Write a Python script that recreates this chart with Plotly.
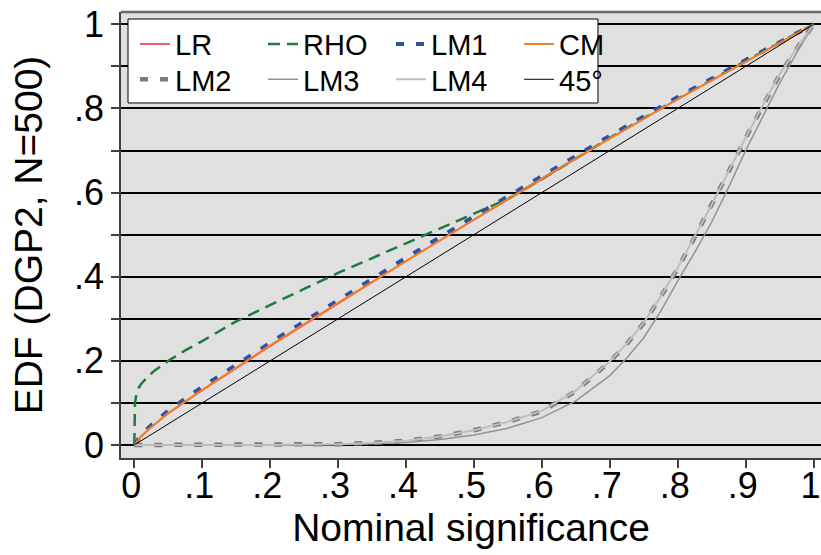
import plotly.graph_objects as go

# ---------------- data ----------------
x_lr = [0, .01, .02, .05, .1, .15, .2, .3, .4, .5, .6, .7, .8, .9, 1]
y_lr = [0, .02, .035, .075, .13, .183, .235, .336, .437, .535, .632, .728, .822, .912, 1]

x_cm = [0, .01, .02, .05, .1, .15, .2, .3, .4, .5, .6, .7, .8, .9, 1]
y_cm = [0, .021, .036, .076, .131, .184, .237, .338, .438, .536, .633, .729, .822, .912, 1]

x_lm1 = [0, .01, .02, .05, .1, .15, .2, .3, .4, .5, .6, .7, .8, .9, 1]
y_lm1 = [0, .024, .04, .082, .138, .191, .243, .344, .445, .543, .64, .735, .827, .915, 1]

x_rho = [0, .0003, .001, .003, .006, .01, .02, .03, .05, .075, .1, .15, .2, .25,
         .3, .35, .4, .45, .5, .55, .6, .65, .7, .8, .9, 1]
y_rho = [0, .07, .1, .12, .135, .145, .163, .177, .2, .225, .247, .294, .333, .371,
         .409, .444, .48, .515, .55, .585, .632, .68, .73, .823, .913, 1]

x_lm2 = [0, .1, .2, .3, .35, .4, .45, .5, .55, .6, .65, .7, .725, .75, .775, .8,
         .825, .85, .875, .9, .925, .95, .975, 1]
y_lm2 = [0, 0, 0, .002, .005, .01, .02, .035, .055, .08, .128, .198, .24, .29, .352, .42,
         .494, .57, .65, .73, .806, .88, .942, 1]

x_lm3 = [0, .1, .2, .3, .35, .4, .45, .5, .55, .6, .65, .7, .725, .75, .775, .8,
         .825, .85, .875, .9, .925, .95, .975, 1]
y_lm3 = [0, 0, 0, .001, .003, .006, .013, .024, .04, .065, .105, .165, .207, .255, .318, .39,
         .458, .53, .613, .7, .78, .86, .932, 1]

x_lm4 = [0, .1, .2, .3, .35, .4, .45, .5, .55, .6, .65, .7, .725, .75, .775, .8,
         .825, .85, .875, .9, .925, .95, .975, 1]
y_lm4 = [0, 0, 0, .002, .005, .01, .02, .035, .055, .081, .129, .199, .241, .291, .353, .421,
         .495, .571, .651, .731, .807, .881, .943, 1]

x_45 = [0, 1]
y_45 = [0, 1]

x_tickvals = [0, .1, .2, .3, .4, .5, .6, .7, .8, .9, 1]
x_ticktext = ["0", ".1", ".2", ".3", ".4", ".5", ".6", ".7", ".8", ".9", "1"]
y_tickvals = [0, .1, .2, .3, .4, .5, .6, .7, .8, .9, 1]
y_ticktext = ["0", "", ".2", "", ".4", "", ".6", "", ".8", "", "1"]

# ---------------- figure ----------------
FONT = "Liberation Sans, Arial, Helvetica, sans-serif"
fig = go.Figure()

series = [
    ("LR", x_lr, y_lr, dict(color="#ee2a2e", width=1.5), "legend"),
    ("RHO", x_rho, y_rho, dict(color="#1b7d3d", width=2.5, dash="12px,7px"), "legend"),
    ("LM1", x_lm1, y_lm1, dict(color="#2f52a4", width=4, dash="8px,12px"), "legend"),
    ("CM", x_cm, y_cm, dict(color="#f58025", width=2), "legend"),
    ("LM2", x_lm2, y_lm2, dict(color="#7c7c7c", width=4.5, dash="8px,12px"), "legend2"),
    ("LM3", x_lm3, y_lm3, dict(color="#939393", width=1.5), "legend2"),
    ("LM4", x_lm4, y_lm4, dict(color="#bdbdbd", width=2), "legend2"),
    ("45°", x_45, y_45, dict(color="black", width=1), "legend2"),
]
for name, xs, ys, ln, lg in series:
    fig.add_trace(go.Scatter(x=xs, y=ys, mode="lines", name=name, line=ln,
                             legend=lg, hoverinfo="skip"))

leg_common = dict(orientation="h", xanchor="left", yanchor="top",
                  bgcolor="rgba(0,0,0,0)", borderwidth=0, entrywidth=83,
                  entrywidthmode="pixels", itemwidth=30,
                  font=dict(family=FONT, size=29, color="black"))

fig.update_layout(
    width=821, height=555,
    margin=dict(l=121, r=0, t=12, b=97, pad=0),
    paper_bgcolor="white", plot_bgcolor="#e0e0e0",
    font=dict(family=FONT, color="black"),
    showlegend=True,
    legend=dict(x=0.02, y=0.985, **leg_common),
    legend2=dict(x=0.02, y=0.906, **leg_common),
    xaxis=dict(range=[-0.0196, 1.0109], tickvals=x_tickvals, ticktext=x_ticktext,
               ticks="outside", ticklen=8, tickwidth=1.5, tickcolor="#404040",
               ticklabelstandoff=-13, ticklabelshift=-3, ticklabeloverflow="allow",
               tickfont=dict(family=FONT, size=36, color="black"),
               showgrid=False, zeroline=False, showline=True,
               linecolor="#404040", linewidth=1.5, automargin=False,
               title=dict(text="Nominal significance", standoff=8,
                          font=dict(family=FONT, size=39, color="black"))),
    yaxis=dict(range=[-0.0309, 1.0292], tickvals=y_tickvals, ticktext=y_ticktext,
               ticks="outside", ticklen=8, tickwidth=1.5, tickcolor="#404040",
               ticklabelstandoff=0,
               tickfont=dict(family=FONT, size=36, color="black"),
               showgrid=True, gridcolor="black", gridwidth=1.6,
               zeroline=False, showline=True,
               linecolor="#404040", linewidth=1.5, automargin=False,
               title=dict(text="EDF (DGP2, N=500)", standoff=19,
                          font=dict(family=FONT, size=39, color="black"))),
    shapes=[
        dict(type="rect", xref="paper", yref="paper", x0=0.01, x1=0.6814,
             y0=0.796, y1=0.9843, fillcolor="white",
             line=dict(color="black", width=1), layer="above"),
        dict(type="line", xref="paper", yref="paper", x0=0, x1=1, y0=1, y1=1,
             line=dict(color="#6a6a6a", width=2.5), layer="above"),
    ],
)

fig.write_html(
    "out.html",
    config={"displayModeBar": False},
    post_script="document.body.style.margin='0';document.body.style.overflow='hidden';",
)
